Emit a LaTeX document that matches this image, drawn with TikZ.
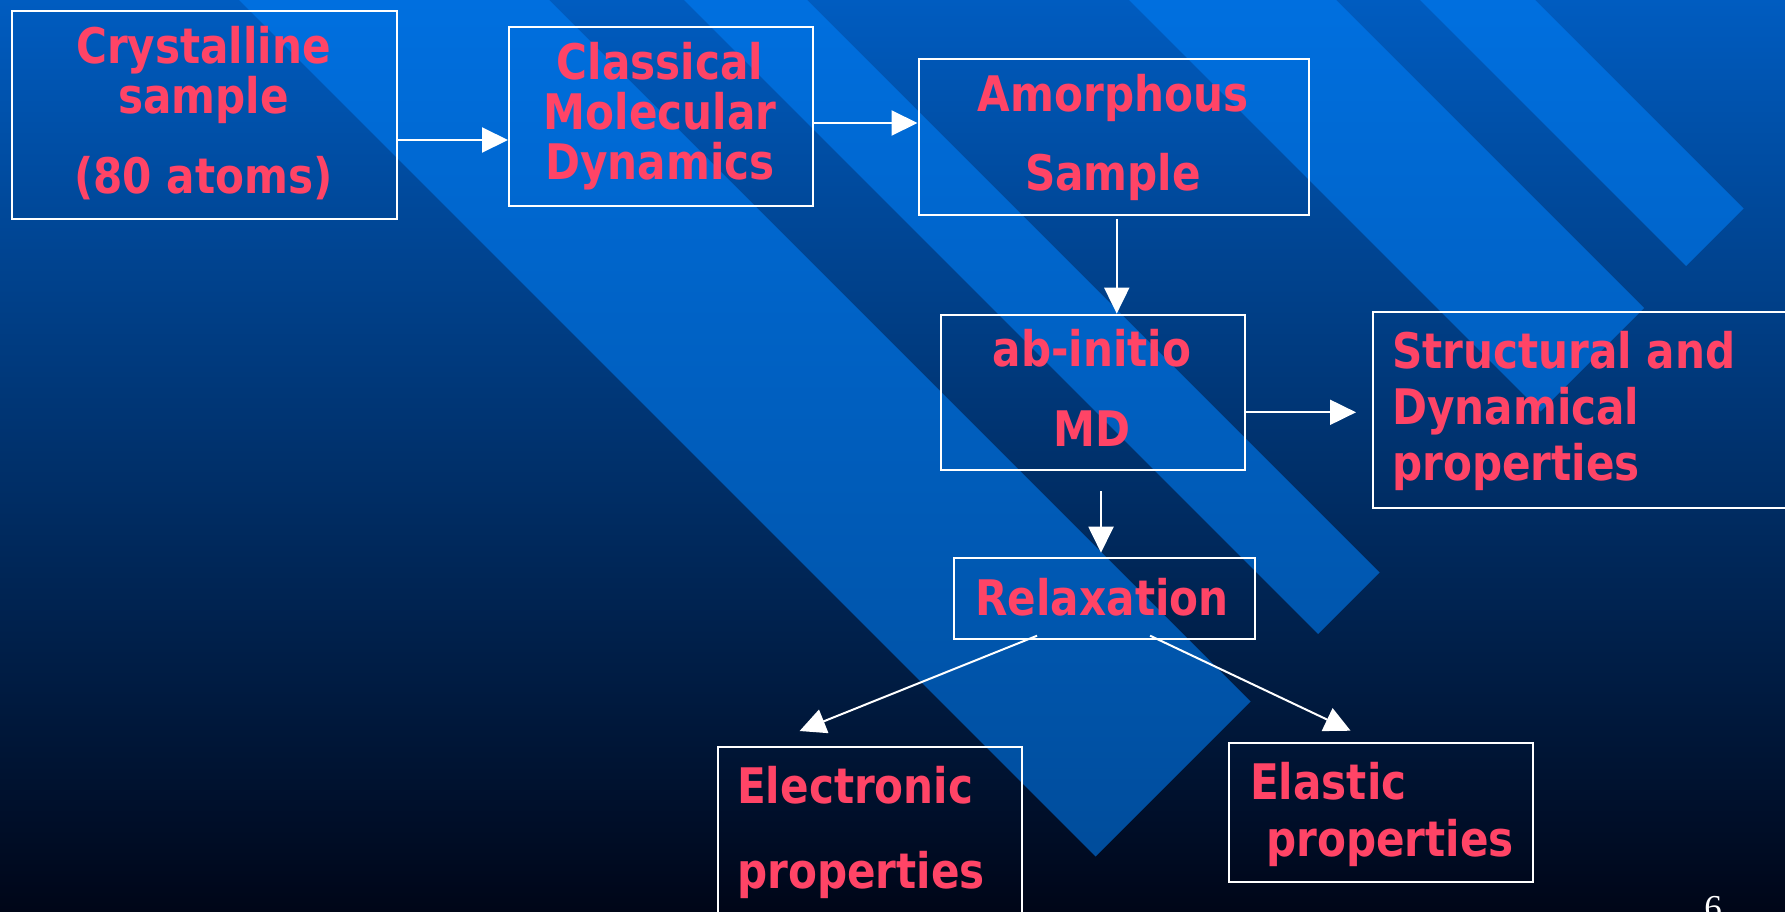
\documentclass[tikz,border=0pt]{standalone}
\usepackage{fontspec}
\usetikzlibrary{arrows.meta,calc}
\newfontfamily\boxfont[FakeStretch=0.86]{DejaVu Sans}
\newfontfamily\pagefont{Liberation Serif}
\definecolor{bgtop}{HTML}{005CC0}
\definecolor{bgbot}{HTML}{000618}
\definecolor{bandcol}{HTML}{007FF8}
\definecolor{txtred}{HTML}{FF4466}
\tikzset{
  frame/.style={draw=white, line width=2pt, inner sep=0pt, anchor=north west},
  lbl/.style={text=txtred, inner sep=0pt, font=\boxfont\bfseries\fontsize{49}{49}\selectfont},
  arr/.style={draw=white, line width=2pt, -{Triangle[length=26pt,width=25pt]}},
  band/.style={fill=bandcol, fill opacity=0.57},
}
\begin{document}
\begin{tikzpicture}[x=1pt,y=-1pt]
\useasboundingbox (0,0) rectangle (1785,911);
% background gradient
\shade[top color=bgtop,bottom color=bgbot] (0,0) rectangle (1785,911);
% diagonal bands
\fill[band] (239,0) -- (549,0) -- (1250.5,701.5) -- (1095.5,856.5) -- cycle;
\fill[band] (684,0) -- (807,0) -- (1379.5,572.5) -- (1318,634) -- cycle;
\fill[band] (1129,0) -- (1336,0) -- (1644,308) -- (1540.5,411.5) -- cycle;
\fill[band] (1420,0) -- (1535,0) -- (1743.5,208.5) -- (1686,266) -- cycle;

% boxes
\node[frame, minimum width=385pt, minimum height=208pt] (crys) at (11,10) {};
\node[frame, minimum width=304pt, minimum height=179pt] (clas) at (508,26) {};
\node[frame, minimum width=390.5pt, minimum height=156pt] (amor) at (917.5,58) {};
\node[frame, minimum width=304pt, minimum height=155.4pt] (abin) at (940,313.6) {};
\node[frame, minimum width=418pt, minimum height=196pt] (struc) at (1372,311) {};
\node[frame, minimum width=301pt, minimum height=81pt] (rel) at (952.6,556.7) {};
\node[frame, minimum width=304pt, minimum height=175pt] (elec) at (716.6,746) {};
\node[frame, minimum width=304pt, minimum height=139pt] (elast) at (1227.6,741.7) {};

% box texts
\node[lbl, anchor=base] (crysA) at (203.5,63) {Crystalline};
\node[lbl, anchor=base] (crysB) at (203.5,113) {sample};
\node[lbl, anchor=base] (crysC) at (203.5,193) {(80 atoms)};
\node[lbl, anchor=base] (clasA) at (660,79) {Classical};
\node[lbl, anchor=base] (clasB) at (660,129) {Molecular};
\node[lbl, anchor=base] (clasC) at (660,179) {Dynamics};
\node[lbl, anchor=base] (amorA) at (1113,111) {Amorphous};
\node[lbl, anchor=base] (amorB) at (1113,190) {Sample};
\node[lbl, anchor=base] (abinA) at (1092,366) {ab-initio};
\node[lbl, anchor=base] (abinB) at (1092,446) {MD};
\node[lbl, anchor=base west] (strucA) at (1392,368) {Structural and};
\node[lbl, anchor=base west] (strucB) at (1392,424) {Dynamical};
\node[lbl, anchor=base west] (strucC) at (1392,480) {properties};
\node[lbl, anchor=base] (relA) at (1102,615) {Relaxation};
\node[lbl, anchor=base west] (elecA) at (737,803) {Electronic};
\node[lbl, anchor=base west] (elecB) at (737,888) {properties};
\node[lbl, anchor=base west] (elastA) at (1250,799) {Elastic};
\node[lbl, anchor=base west] (elastB) at (1266,856) {properties};

% page number
\node[text=white, inner sep=0pt, anchor=base, font=\pagefont\fontsize{35}{35}\selectfont] (pg) at (1713,919) {6};

% connectors
\coordinate (a1) at ($(crys.east)+(0,25)$);
\draw[arr] (a1) -- (a1 -| clas.west);
\coordinate (a2) at ($(clas.east)+(0,6.5)$);
\draw[arr] (a2) -- (a2 -| amor.west);
\coordinate (a3) at ($(amor.south)+(3,3)$);
\draw[arr] (a3) -- (a3 |- abin.north);
\coordinate (a4) at ($(abin.east)+(0,20)$);
\draw[arr] (a4) -- ($(a4 -| struc.west)+(-16,0)$);
\coordinate (a5) at ($(abin.south)+(8,20)$);
\draw[arr] (a5) -- ($(a5 |- rel.north)+(0,-4)$);
\draw[arr] ($(rel.south)+(-67,-4)$) -- ($(elec.north)+(-70,-15)$);
\draw[arr] ($(rel.south)+(46,-4)$) -- ($(elast.north)+(-30,-11)$);
\end{tikzpicture}
\end{document}
